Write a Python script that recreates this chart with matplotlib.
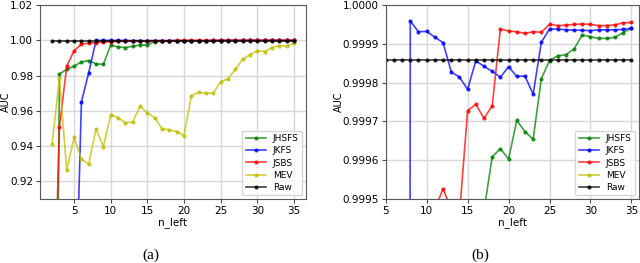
import numpy as np
import matplotlib
matplotlib.use("Agg")
import matplotlib.pyplot as plt
from matplotlib.ticker import FormatStrFormatter

# number of features left
n_left = list(range(2, 36))

jhsfs = [0.50, 0.9809, 0.9835, 0.9854, 0.9877, 0.9885, 0.9866, 0.9864, 0.9972, 0.9963,
         0.9959, 0.9966, 0.9973, 0.9973, 0.9993, 0.99947, 0.999609, 0.99963, 0.999603, 0.999703,
         0.999674, 0.999654, 0.99981, 0.999857, 0.999869, 0.999872, 0.999887, 0.999923, 0.999918,
         0.999914, 0.999914, 0.999917, 0.999929, 0.99994]

jkfs = [0.70, 0.74, 0.78, 0.812, 0.965, 0.9817, 0.999959, 0.999931, 0.999932, 0.999917,
        0.999903, 0.999828, 0.999814, 0.999783, 0.999856, 0.999842, 0.999829, 0.999814, 0.999841,
        0.999816, 0.999817, 0.99977, 0.999904, 0.999938, 0.999938, 0.999936, 0.999935, 0.999935,
        0.999934, 0.999936, 0.999936, 0.999936, 0.999937, 0.99994]

jsbs = [0.80, 0.9507, 0.9854, 0.9940, 0.9978, 0.9984, 0.9986, 0.9990, 0.9992, 0.999473,
        0.999527, 0.999473, 0.99946, 0.999728, 0.999744, 0.999708, 0.99974, 0.999938, 0.999933,
        0.999931, 0.999927, 0.999931, 0.99993, 0.99995, 0.999947, 0.999948, 0.99995, 0.999951,
        0.99995, 0.999947, 0.999947, 0.999949, 0.999954, 0.999955]

mev = [0.9413, 0.9784, 0.9264, 0.9450, 0.9327, 0.9298, 0.9498, 0.9397, 0.9578, 0.9561,
       0.9532, 0.9538, 0.9626, 0.9588, 0.9561, 0.9500, 0.9492, 0.9483, 0.9460, 0.9685,
       0.9706, 0.9700, 0.9700, 0.9765, 0.9782, 0.9835, 0.9892, 0.9919, 0.9940, 0.9936,
       0.9959, 0.9970, 0.9967, 0.9982]

raw = [0.999858] * len(n_left)

series = [("JHSFS", jhsfs, "g"), ("JKFS", jkfs, "b"), ("JSBS", jsbs, "r"),
          ("MEV", mev, "y"), ("Raw", raw, "k")]

fig = plt.figure(figsize=(6.4, 2.63), dpi=100)
ax1 = fig.add_axes([0.0625, 0.243, 0.4156, 0.738])
ax2 = fig.add_axes([0.6027, 0.243, 0.3958, 0.738])

for ax in [ax1, ax2]:
    ax.grid(True, color="#d8d8d8", linewidth=1)
    ax.set_axisbelow(True)
    for name, vals, c in series:
        ax.plot(n_left, vals, color=c, marker="o", markersize=2, linewidth=1.2,
                alpha=0.75, label=name)
    ax.set_xlabel("n_left", fontsize=7.5, labelpad=1)
    ax.set_ylabel("AUC", fontsize=7)
    ax.tick_params(labelsize=7.5, length=3, pad=2, color="0.3")
    for s in ax.spines.values():
        s.set_color("0.35")
    ax.legend(loc="lower right", fontsize=6.5, handlelength=2.2, borderaxespad=0.4,
              labelspacing=0.35, borderpad=0.4)
    ax.set_xticks(range(5, 36, 5))

ax1.set_xlim(0.35, 36.65)
ax1.set_ylim(0.91, 1.02)
ax1.set_yticks(np.arange(0.92, 1.021, 0.02))
ax1.yaxis.set_major_formatter(FormatStrFormatter("%.2f"))
ax1.yaxis.set_label_coords(-0.11, 0.5)

ax2.set_xlim(5, 35.93)
ax2.set_ylim(0.9995, 1.0)
ax2.set_yticks(np.arange(0.9995, 1.00001, 0.0001))
ax2.yaxis.set_major_formatter(FormatStrFormatter("%.4f"))
ax2.yaxis.set_label_coords(-0.165, 0.5)

fig.text(0.236, 0.015, "(a)", family="Liberation Serif", fontsize=11, ha="center")
fig.text(0.75, 0.015, "(b)", family="Liberation Serif", fontsize=11, ha="center")

fig.savefig("out.png", dpi=100)
